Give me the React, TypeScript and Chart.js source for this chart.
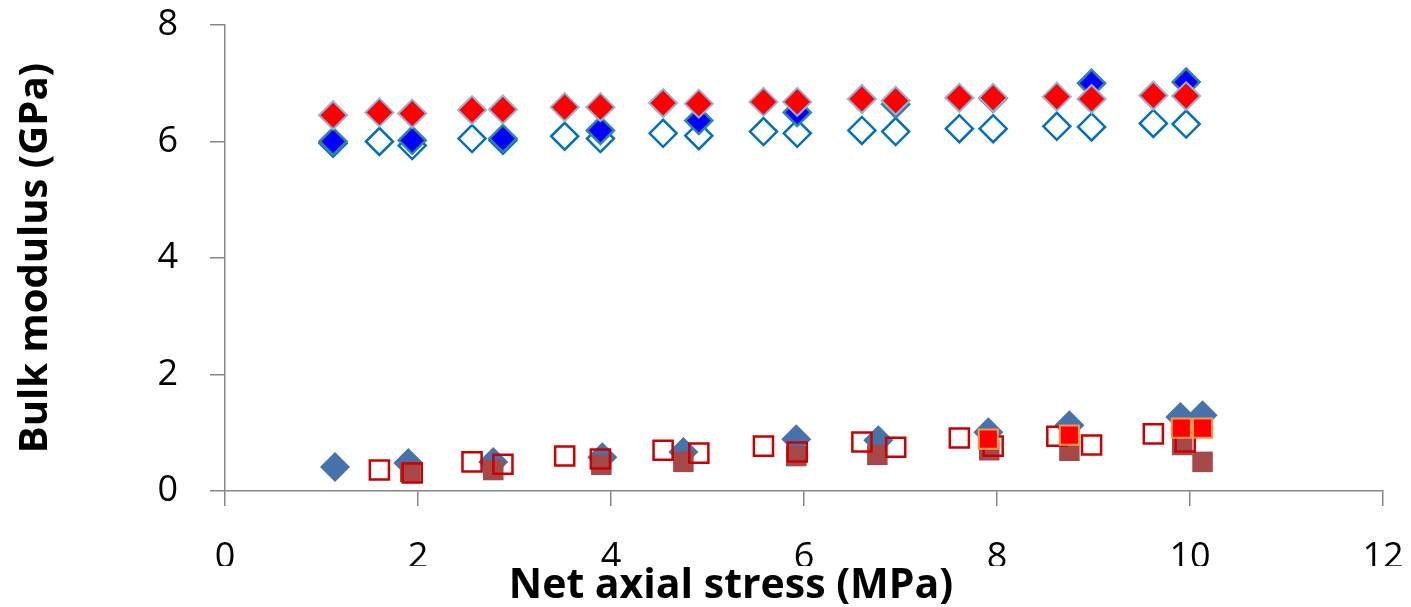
import React, { useEffect, useRef } from "react";
import { Chart, registerables } from "chart.js";

Chart.register(...registerables);

// Upper group (GPa ~6-7)
const redDiamondX = [1.12, 1.6, 1.94, 2.56, 2.88, 3.52, 3.89, 4.54, 4.91, 5.58, 5.93, 6.6, 6.95, 7.61, 7.96, 8.62, 8.98, 9.62, 9.96];
const redDiamondY = [6.45, 6.5, 6.48, 6.54, 6.55, 6.59, 6.59, 6.66, 6.65, 6.68, 6.68, 6.73, 6.7, 6.75, 6.75, 6.77, 6.73, 6.79, 6.78];

const blueDiamondX = [1.12, 1.94, 2.88, 3.89, 4.91, 5.93, 6.95, 7.96, 8.98, 9.96];
const blueDiamondY = [6.0, 6.02, 6.05, 6.19, 6.36, 6.5, 6.64, 6.74, 7.0, 7.02];

const openDiamondX = [1.12, 1.6, 1.94, 2.56, 2.88, 3.52, 3.89, 4.54, 4.91, 5.58, 5.93, 6.6, 6.95, 7.61, 7.96, 8.62, 8.98, 9.62, 9.96];
const openDiamondY = [5.97, 6.0, 5.93, 6.05, 6.02, 6.09, 6.05, 6.14, 6.1, 6.17, 6.14, 6.19, 6.17, 6.22, 6.22, 6.26, 6.25, 6.31, 6.3];

// Lower group (GPa ~0.3-1.3)
const steelDiamondX = [1.14, 1.9, 2.78, 3.91, 4.75, 5.92, 6.77, 7.91, 8.75, 9.9, 10.13];
const steelDiamondY = [0.41, 0.48, 0.5, 0.58, 0.67, 0.89, 0.87, 1.01, 1.13, 1.27, 1.3];

const brownSquareX = [1.92, 2.78, 3.9, 4.75, 5.92, 6.76, 7.92, 8.75, 9.92, 10.13];
const brownSquareY = [0.33, 0.36, 0.45, 0.5, 0.6, 0.62, 0.7, 0.69, 0.79, 0.5];

const openSquareX = [1.6, 1.94, 2.56, 2.88, 3.52, 3.89, 4.54, 4.91, 5.58, 5.93, 6.6, 6.95, 7.61, 7.96, 8.62, 8.98, 9.62, 9.95];
const openSquareY = [0.36, 0.31, 0.5, 0.46, 0.6, 0.55, 0.7, 0.65, 0.77, 0.67, 0.84, 0.75, 0.91, 0.77, 0.94, 0.79, 0.98, 0.84];

const redSquareX = [7.91, 8.75, 9.91, 10.13];
const redSquareY = [0.89, 0.96, 1.08, 1.08];

const xTicks = [0, 2, 4, 6, 8, 10, 12];
const yTicks = [0, 2, 4, 6, 8];

const FONT = "'Open Sans', 'Noto Sans', sans-serif";

function pts(xs: number[], ys: number[]) {
  return xs.map((x, i) => ({ x, y: ys[i] }));
}

export default function App() {
  const ref = useRef<HTMLCanvasElement | null>(null);

  useEffect(() => {
    if (!ref.current) return;
    const chart = new Chart(ref.current, {
      type: "scatter",
      data: {
        datasets: [
          {
            label: "red squares",
            data: pts(redSquareX, redSquareY),
            pointStyle: "rect",
            pointRadius: 13.5,
            backgroundColor: "#FF0000",
            borderColor: "#F79646",
            borderWidth: 2,
            order: 0,
          },
          {
            label: "open squares",
            data: pts(openSquareX, openSquareY),
            pointStyle: "rect",
            pointRadius: 13.5,
            backgroundColor: "rgba(0,0,0,0)",
            borderColor: "#CC0000",
            borderWidth: 2.5,
            order: 1,
          },
          {
            label: "brown squares",
            data: pts(brownSquareX, brownSquareY),
            pointStyle: "rect",
            pointRadius: 14.5,
            backgroundColor: "#A64848",
            borderColor: "#A64848",
            borderWidth: 0,
            order: 2,
          },
          {
            label: "steel diamonds",
            data: pts(steelDiamondX, steelDiamondY),
            pointStyle: "rectRot",
            pointRadius: 15,
            backgroundColor: "#4673AC",
            borderColor: "#4673AC",
            borderWidth: 0,
            order: 3,
          },
          {
            label: "red diamonds",
            data: pts(redDiamondX, redDiamondY),
            pointStyle: "rectRot",
            pointRadius: 14,
            backgroundColor: "#FF0000",
            borderColor: "#95B3D7",
            borderWidth: 2,
            order: 4,
          },
          {
            label: "blue diamonds",
            data: pts(blueDiamondX, blueDiamondY),
            pointStyle: "rectRot",
            pointRadius: 13.5,
            backgroundColor: "#0000FF",
            borderColor: "#31859C",
            borderWidth: 2.5,
            order: 5,
          },
          {
            label: "open diamonds",
            data: pts(openDiamondX, openDiamondY),
            pointStyle: "rectRot",
            pointRadius: 13.5,
            backgroundColor: "rgba(0,0,0,0)",
            borderColor: "#0070C0",
            borderWidth: 2.5,
            order: 6,
          },
        ],
      },
      options: {
        responsive: false,
        animation: false,
        events: [],
        layout: { padding: { left: 79, right: 28, top: 25, bottom: 0 } },
        plugins: {
          legend: { display: false },
          tooltip: { enabled: false },
          title: {
            display: true,
            position: "bottom",
            text: "Net axial stress (MPa)",
            color: "#000",
            font: { family: FONT, size: 41, weight: "bold", lineHeight: 1 },
            padding: { top: 0, bottom: 0 },
          },
        },
        scales: {
          x: {
            type: "linear",
            min: 0,
            max: 12,
            afterBuildTicks: (s: any) => {
              s.ticks = xTicks.map((v) => ({ value: v }));
            },
            afterFit: (s: any) => {
              s.height = 75;
              s.paddingLeft = 0;
              s.paddingRight = 0;
            },
            grid: {
              drawOnChartArea: false,
              drawTicks: true,
              tickLength: 15,
              color: "#868686",
              lineWidth: 1.5,
            },
            border: { color: "#868686", width: 1.5 },
            ticks: {
              color: "#000",
              padding: 30,
              maxRotation: 0,
              font: { family: FONT, size: 36 },
            },
          },
          y: {
            type: "linear",
            min: 0,
            max: 8,
            afterBuildTicks: (s: any) => {
              s.ticks = yTicks.map((v) => ({ value: v }));
            },
            afterFit: (s: any) => {
              s.width = 146;
              s.paddingTop = 0;
              s.paddingBottom = 0;
            },
            grid: {
              drawOnChartArea: false,
              drawTicks: true,
              tickLength: 15,
              color: "#868686",
              lineWidth: 1.5,
            },
            border: { color: "#868686", width: 1.5 },
            ticks: {
              color: "#000",
              padding: 32,
              font: { family: FONT, size: 36 },
            },
            title: {
              display: true,
              text: "Bulk modulus (GPa)",
              color: "#000",
              font: { family: FONT, size: 40, weight: "bold", lineHeight: 1 },
              padding: { top: -63, bottom: 0 },
            },
          },
        },
      },
    });
    return () => chart.destroy();
  }, []);

  return (
    <div style={{ position: "absolute", left: 0, top: 0, width: 1411, height: 607, background: "#fff" }}>
      <canvas ref={ref} width={1411} height={607} style={{ display: "block" }} />
    </div>
  );
}
